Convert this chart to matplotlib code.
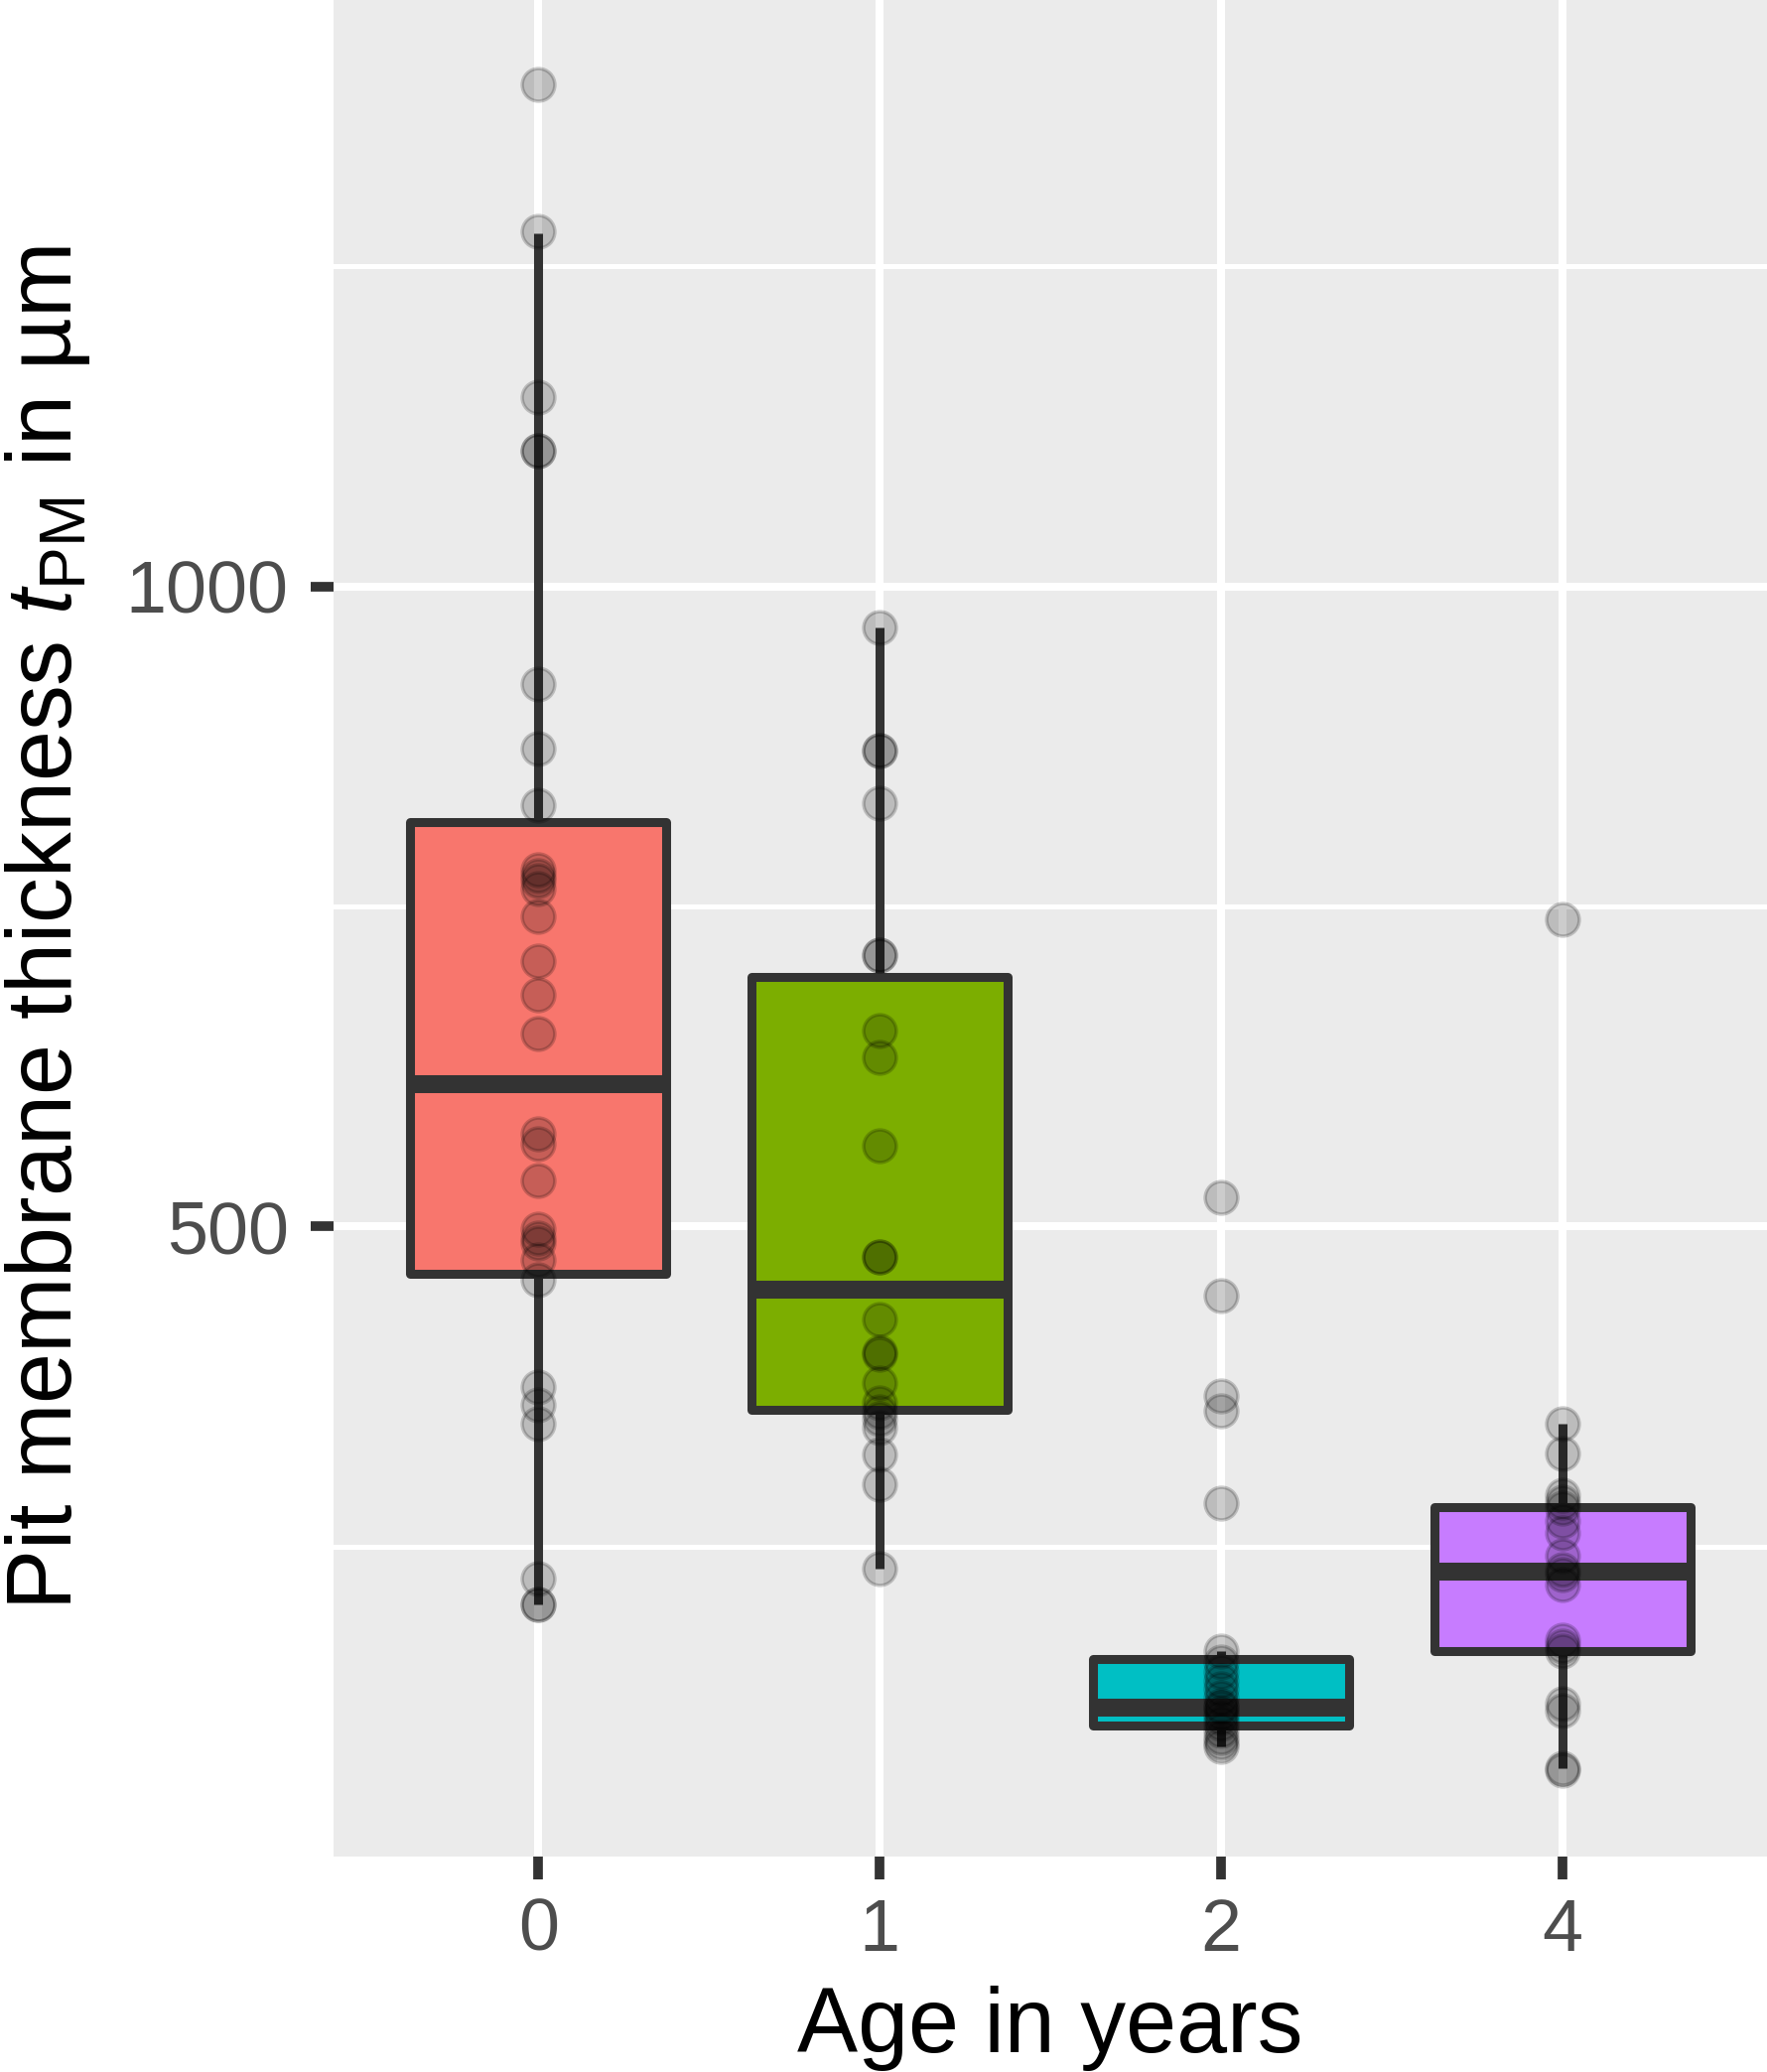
import numpy as np
import matplotlib
matplotlib.use('Agg')
import matplotlib.pyplot as plt

plt.rcParams['font.family'] = ['Liberation Sans', 'DejaVu Sans']
plt.rcParams['mathtext.fontset'] = 'custom'
plt.rcParams['mathtext.rm'] = 'Liberation Sans'
plt.rcParams['mathtext.it'] = 'Liberation Sans:italic'

# data
ages = ['0', '1', '2', '4']
fills = ['#F8766D', '#7CAE00', '#00BFC4', '#C77CFF']

q1 = [463, 357, 110, 168]
med = [611, 451, 124, 230]
q3 = [816, 695, 162, 281]
whis_lo = [205, 233, 94, 77]
whis_hi = [1276, 968, 168, 346]

pts_0 = [1392, 1277, 1148, 1106, 1106, 924, 873, 829, 779, 774, 770, 764, 742,
         707, 681, 651, 572, 565, 536, 498, 491, 487, 474, 458, 375, 361, 346,
         225, 205, 205]
pts_1 = [968, 872, 872, 831, 712, 712, 653, 632, 563, 476, 476, 427, 402, 400,
         378, 362, 355, 350, 343, 322, 299, 233]
pts_2 = [523, 446, 368, 356, 284, 168, 160, 152, 145, 139, 132, 126, 124, 120,
         116, 112, 106, 101, 97, 94]
pts_4 = [740, 346, 323, 290, 285, 280, 270, 261, 243, 232, 228, 220, 177, 172,
         168, 127, 122, 77, 75]
points = [pts_0, pts_1, pts_2, pts_4]

fig = plt.figure(figsize=(17.8, 20.87), dpi=100)
ax = fig.add_axes([336/1780, 1 - 1870/2087, 1 - 336/1780, 1870/2087])
ax.set_facecolor('#EBEBEB')

stats = []
for i in range(len(ages)):
    stats.append({'q1': q1[i], 'med': med[i], 'q3': q3[i],
                  'whislo': whis_lo[i], 'whishi': whis_hi[i], 'fliers': []})

pos = np.arange(len(ages))
bp = ax.bxp(stats, positions=pos, widths=0.75, patch_artist=True,
            showcaps=False, showfliers=False,
            boxprops=dict(edgecolor='#333333', linewidth=6.5, joinstyle='round'),
            medianprops=dict(color='#333333', linewidth=13, solid_capstyle='butt'),
            whiskerprops=dict(color='#333333', linewidth=6.5, solid_capstyle='butt'),
            zorder=3)
for patch, c in zip(bp['boxes'], fills):
    patch.set_facecolor(c)

for i, vals in enumerate(points):
    ax.scatter(np.full(len(vals), pos[i]), vals, s=560,
               facecolor=(0, 0, 0, 0.2), edgecolor=(0, 0, 0, 0.2),
               linewidth=2.5, zorder=4)

ax.set_xlim(-0.6, 3.6)
ax.set_ylim(7.8, 1458)
ax.set_xticks(pos)
ax.set_xticklabels(ages)
ax.set_yticks([500, 1000])
ax.set_yticks([250, 750, 1250], minor=True)

ax.grid(True, which='major', color='white', linewidth=5.8, zorder=0)
ax.grid(True, which='minor', axis='y', color='white', linewidth=3.6, zorder=0)
ax.set_axisbelow(True)
for s in ax.spines.values():
    s.set_visible(False)

ax.tick_params(axis='both', which='major', length=16.5, width=7, color='#333333',
               labelcolor='#4D4D4D', labelsize=53)
ax.tick_params(axis='y', which='major', pad=16)
ax.tick_params(axis='x', which='major', pad=13)
ax.tick_params(axis='y', which='minor', length=0)

ax.set_ylabel(r'Pit membrane thickness $t_{\mathrm{PM}}$ in µm', fontsize=66, color='black')
ax.yaxis.set_label_coords(-0.168, 0.5)
fig.text(1058/1780, 1 - 2067/2087, 'Age in years', fontsize=66, color='black',
         ha='center', va='baseline')

fig.savefig('out.png', dpi=100)
